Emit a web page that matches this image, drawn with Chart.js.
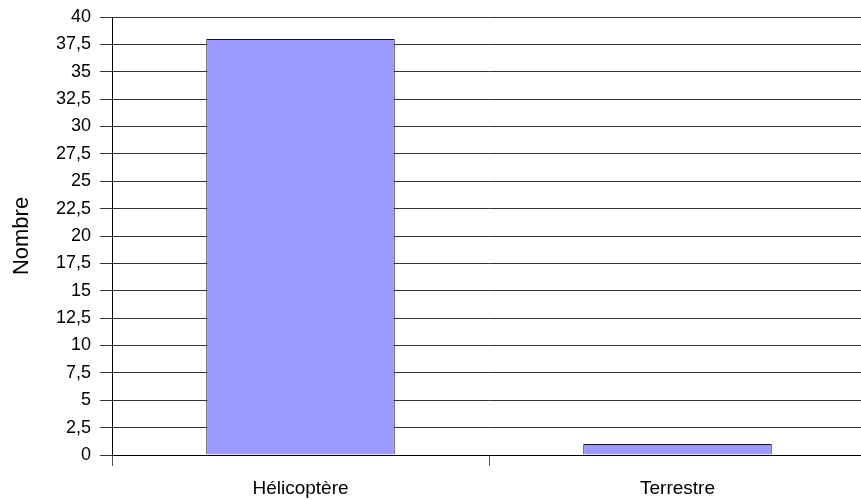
<!DOCTYPE html>
<html>
<head>
<meta charset="utf-8">
<script src="https://cdn.jsdelivr.net/npm/chart.js@4/dist/chart.umd.min.js"></script>
<style>
    html, body { margin: 0; padding: 0; background: #fff; overflow: hidden; }
    #wrap { width: 861px; height: 500px; overflow: hidden; }
    #box { width: 872px; height: 500px; }
</style>
</head>
<body>
<div id="wrap"><div id="box"><canvas id="chart"></canvas></div></div>
<script>
const categories = ['Hélicoptère', 'Terrestre'];
const counts = [38, 1];
const yMax = 40;
const yStep = 2.5;

const fontFamily = "'Liberation Sans', Arial, sans-serif";

new Chart(document.getElementById('chart'), {
    type: 'bar',
    data: {
        labels: categories,
        datasets: [{
            label: 'Nombre',
            data: counts,
            backgroundColor: '#9999ff',
            borderColor: '#111',
            borderWidth: 1,
            barPercentage: 0.5,
            categoryPercentage: 1
        }]
    },
    options: {
        responsive: true,
        maintainAspectRatio: false,
        animation: false,
        layout: { padding: { top: 17, right: 6, bottom: 0, left: 0 } },
        plugins: {
            legend: { display: false },
            tooltip: { enabled: false }
        },
        scales: {
            x: {
                offset: true,
                afterFit: scale => { scale.height = 45; },
                grid: {
                    offset: true,
                    drawOnChartArea: false,
                    drawTicks: true,
                    tickLength: 11,
                    color: '#555'
                },
                border: { display: true, color: '#000', width: 1 },
                ticks: {
                    color: '#000',
                    padding: 11,
                    font: { family: fontFamily, size: 19 }
                }
            },
            y: {
                min: 0,
                max: yMax,
                afterFit: scale => {
                    scale.width = 112;
                    // let the layout padding alone decide the top edge
                    scale.paddingTop = 0;
                    scale.paddingBottom = 0;
                },
                grid: {
                    color: '#333',
                    tickLength: 12,
                    drawTicks: true
                },
                border: { display: true, color: '#000', width: 1 },
                ticks: {
                    stepSize: yStep,
                    color: '#000',
                    padding: 9,
                    font: { family: fontFamily, size: 18 },
                    callback: v => String(v).replace('.', ',')
                },
                title: {
                    display: true,
                    text: 'Nombre',
                    color: '#000',
                    padding: { top: 9, bottom: 0 },
                    font: { family: fontFamily, size: 22 }
                }
            }
        }
    }
});
</script>
</body>
</html>
